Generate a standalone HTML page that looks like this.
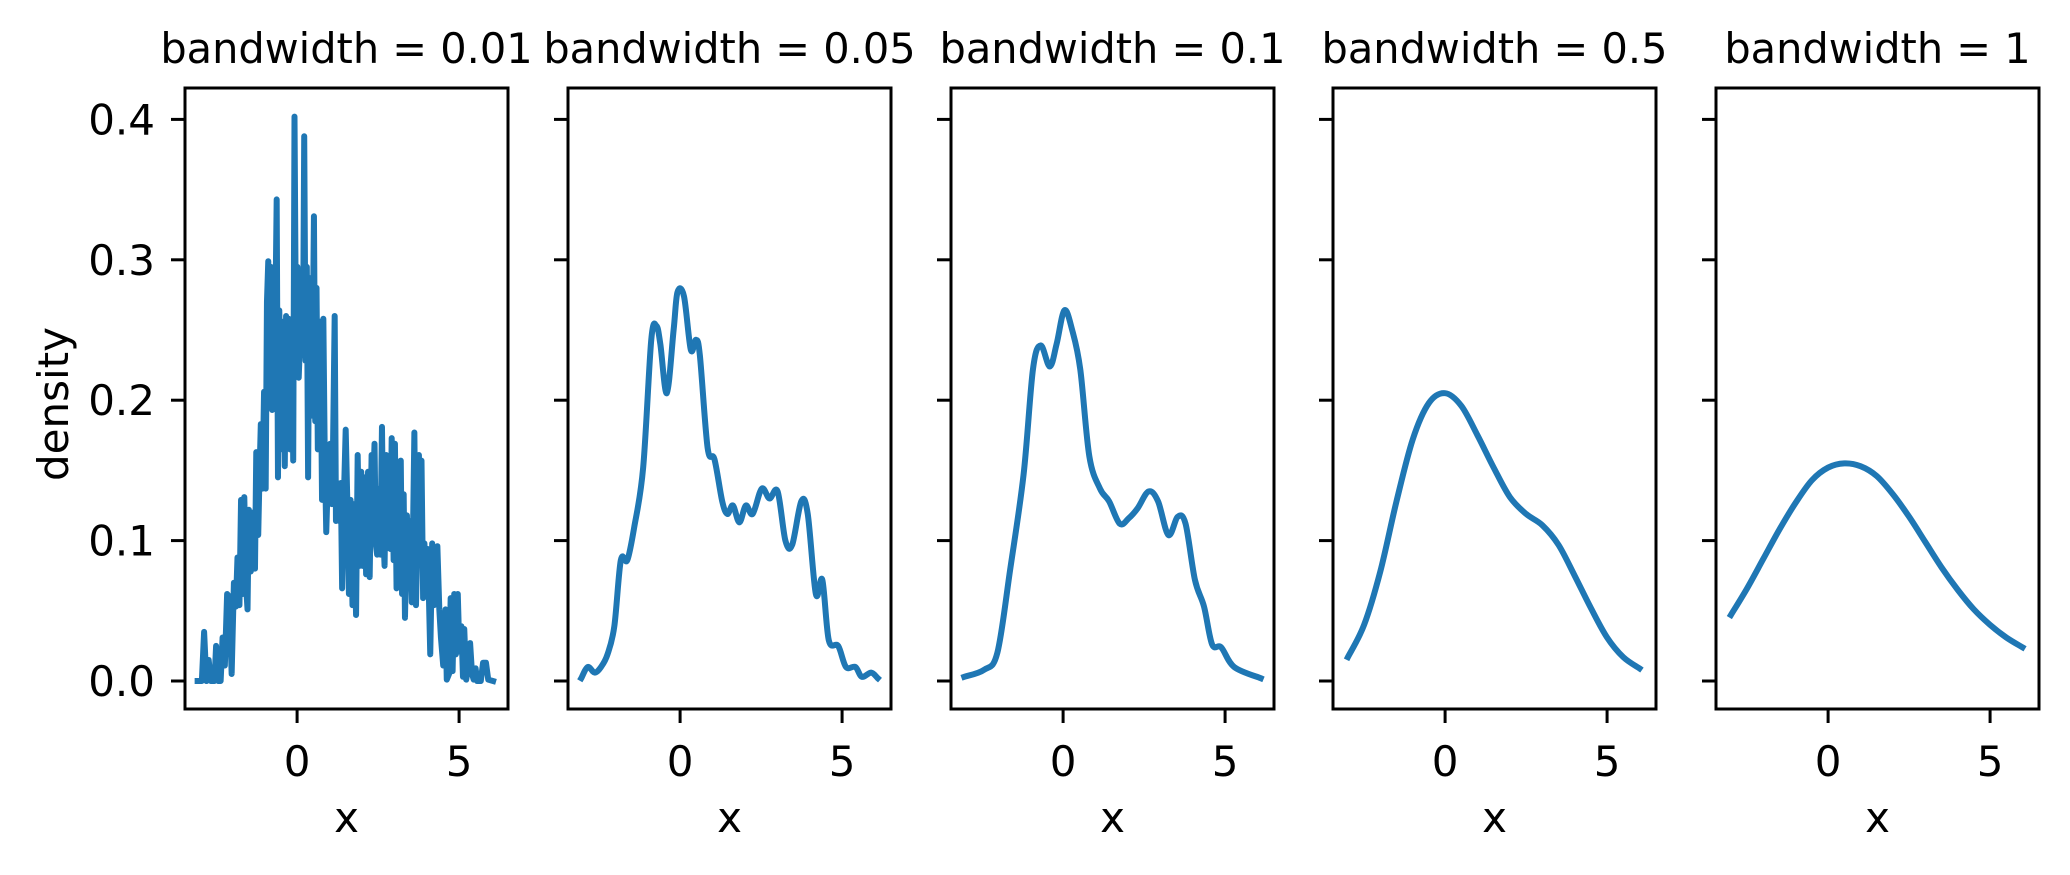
<!DOCTYPE html>
<html><head><meta charset="utf-8"><style>
html,body{margin:0;padding:0;background:#fff;}
svg text{font-family:"DejaVu Sans","Liberation Sans",sans-serif;fill:#000;}
</style></head><body>
<svg id="chart" width="2070" height="870" viewBox="0 0 2070 870" xmlns="http://www.w3.org/2000/svg">
<rect width="2070" height="870" fill="#fff"/>
<text x="0" y="0" font-size="42" text-anchor="middle" transform="translate(68,404) rotate(-90)">density</text>
</svg>
<script>
const titles = ["bandwidth = 0.01","bandwidth = 0.05","bandwidth = 0.1","bandwidth = 0.5","bandwidth = 1"];
const yTicks = [0, 0.1, 0.2, 0.3, 0.4];
const yTickLabels = ["0.0","0.1","0.2","0.3","0.4"];
const xTicks = [0, 5];
const xTickLabels = ["0","5"];
const x1 = [-3.07,-2.94,-2.87,-2.80,-2.73,-2.66,-2.55,-2.50,-2.43,-2.36,-2.30,-2.23,-2.16,-2.09,-2.02,-1.95,-1.89,-1.84,-1.78,-1.73,-1.68,-1.63,-1.57,-1.53,-1.49,-1.43,-1.37,-1.30,-1.26,-1.20,-1.16,-1.12,-1.07,-1.02,-0.97,-0.93,-0.89,-0.85,-0.81,-0.77,-0.72,-0.68,-0.63,-0.59,-0.55,-0.51,-0.46,-0.42,-0.38,-0.34,-0.30,-0.26,-0.22,-0.16,-0.12,-0.08,-0.03,0.01,0.05,0.10,0.14,0.18,0.22,0.26,0.30,0.34,0.38,0.42,0.46,0.52,0.56,0.60,0.64,0.68,0.72,0.77,0.81,0.85,0.90,0.94,0.98,1.02,1.07,1.11,1.16,1.20,1.24,1.30,1.35,1.39,1.43,1.50,1.56,1.60,1.65,1.71,1.75,1.82,1.87,1.93,1.98,2.02,2.08,2.13,2.19,2.24,2.30,2.34,2.39,2.43,2.47,2.53,2.57,2.62,2.66,2.70,2.75,2.79,2.84,2.88,2.92,2.98,3.02,3.07,3.11,3.16,3.20,3.24,3.29,3.33,3.39,3.44,3.48,3.54,3.58,3.62,3.67,3.72,3.76,3.80,3.84,3.89,3.93,3.99,4.03,4.07,4.11,4.17,4.23,4.28,4.33,4.39,4.44,4.51,4.58,4.62,4.69,4.74,4.80,4.85,4.90,4.96,5.01,5.07,5.12,5.16,5.22,5.29,5.34,5.40,5.45,5.51,5.56,5.67,5.74,5.83,5.90,6.05];
const y1 = [0,0,.035,0,.015,0,0,.025,0,0,.031,.011,.062,.060,.005,.070,.053,.088,.054,.129,.062,.131,.066,.051,.122,.078,.120,.080,.163,.104,.147,.183,.137,.206,.137,.270,.299,.216,.295,.193,.266,.244,.343,.145,.264,.208,.165,.256,.153,.260,.177,.258,.165,.256,.157,.402,.224,.295,.216,.248,.285,.232,.388,.228,.295,.145,.287,.248,.189,.331,.185,.280,.165,.212,.256,.129,.258,.169,.106,.137,.149,.169,.126,.169,.260,.114,.141,.114,.141,.066,.118,.179,.118,.062,.129,.054,.126,.047,.161,.082,.149,.082,.145,.076,.149,.074,.161,.129,.169,.098,.090,.137,.090,.181,.106,.082,.161,.106,.141,.094,.173,.086,.169,.066,.145,.102,.157,.062,.133,.045,.118,.070,.114,.056,.110,.177,.054,.110,.161,.106,.157,.059,.098,.066,.094,.059,.019,.098,.054,.090,.096,.051,.031,.011,.051,.001,.005,.059,.007,.062,.019,.062,.021,.039,.003,.037,.001,.011,.027,.005,.001,.009,0,0,.013,.013,.001,0];
const x2 = [-3.05,-2.85,-2.64,-2.44,-2.24,-2.03,-1.83,-1.63,-1.42,-1.14,-0.89,-0.73,-0.61,-0.41,-0.2,-0.08,0.12,0.33,0.49,0.61,0.85,1.06,1.3,1.46,1.63,1.83,2.03,2.24,2.52,2.76,3.01,3.25,3.46,3.74,3.94,4.19,4.39,4.59,4.88,5.12,5.41,5.61,5.9,6.1];
const y2 = [.002,.01,.006,.01,.019,.039,.086,.086,.109,.152,.243,.253,.24,.205,.25,.277,.274,.236,.243,.232,.166,.158,.128,.119,.125,.113,.125,.119,.137,.13,.135,.1,.097,.128,.119,.062,.072,.029,.025,.01,.01,.003,.006,.002];
const x3 = [-3.05,-2.44,-2.03,-1.63,-1.22,-0.93,-0.69,-0.41,-0.2,0.04,0.28,0.53,0.81,1.14,1.42,1.75,2.03,2.3,2.64,2.93,3.25,3.54,3.78,4.07,4.35,4.6,4.88,5.28,6.1];
const y3 = [.003,.008,.02,.08,.147,.222,.239,.224,.24,.264,.25,.222,.16,.137,.128,.112,.116,.123,.135,.128,.104,.117,.112,.072,.053,.026,.024,.01,.002];
const x4 = [-3,-2.5,-2,-1.5,-1,-0.5,0,0.5,1,1.5,2,2.5,3,3.5,4,4.5,5,5.5,6];
const y4 = [.017,.040,.078,.128,.172,.198,.205,.196,.175,.152,.131,.119,.111,.097,.075,.052,.031,.017,.009];
const x5 = [-3,-2.5,-2,-1.5,-1,-0.5,0,0.5,1,1.5,2,2.5,3,3.5,4,4.5,5,5.5,6];
const y5 = [.047,.066,.087,.108,.127,.143,.152,.155,.153,.146,.133,.117,.099,.081,.065,.051,.040,.031,.024];

const NS = "http://www.w3.org/2000/svg";
const svg = document.getElementById('chart');
const panelLefts = [185, 568, 951, 1333, 1716];
const PW = 323, TOP = 88, BOT = 709;
const xMin = -3.46, xMax = 6.51;
const yAt0 = 681, pxPer01 = 140.4;
const seriesX = [x1, x2, x3, x4, x5];
const seriesY = [y1, y2, y3, y4, y5];
const smooth = [false, true, true, true, true];

function mk(tag, attrs) {
  const e = document.createElementNS(NS, tag);
  for (const k in attrs) e.setAttribute(k, attrs[k]);
  return e;
}
function yScale(v) { return yAt0 - v / 0.1 * pxPer01; }

panelLefts.forEach((L, i) => {
  const xScale = v => L + (v - xMin) / (xMax - xMin) * PW;
  const g = mk('g', {});
  
  
  svg.appendChild(g);

  const t = mk('text', {x: L + PW / 2, y: 63, 'font-size': 41.5, 'text-anchor': 'middle'});
  
  
  t.textContent = titles[i];
  g.appendChild(t);

  const xs = seriesX[i], ys = seriesY[i];
  const pts = xs.map((x, k) => [xScale(x), yScale(ys[k])]);
  let d = 'M' + pts[0][0].toFixed(2) + ',' + pts[0][1].toFixed(2);
  if (!smooth[i]) {
    for (let k = 1; k < pts.length; k++) d += 'L' + pts[k][0].toFixed(2) + ',' + pts[k][1].toFixed(2);
  } else {
    for (let k = 0; k < pts.length - 1; k++) {
      const p0 = pts[Math.max(0, k - 1)], p1 = pts[k], p2 = pts[k + 1], p3 = pts[Math.min(pts.length - 1, k + 2)];
      const c1 = [p1[0] + (p2[0] - p0[0]) / 6, p1[1] + (p2[1] - p0[1]) / 6];
      const c2 = [p2[0] - (p3[0] - p1[0]) / 6, p2[1] - (p3[1] - p1[1]) / 6];
      d += 'C' + c1[0].toFixed(2) + ',' + c1[1].toFixed(2) + ' ' + c2[0].toFixed(2) + ',' + c2[1].toFixed(2) + ' ' + p2[0].toFixed(2) + ',' + p2[1].toFixed(2);
    }
  }
  const path = mk('path', {d: d, fill: 'none', stroke: '#1f77b4', 'stroke-width': 6, 'stroke-linejoin': 'round', 'stroke-linecap': 'square'});
  
  
  g.appendChild(path);

  yTicks.forEach((v, k) => {
    const y = yScale(v);
    const tk = mk('line', {x1: L - 14, x2: L, y1: y, y2: y, stroke: '#000', 'stroke-width': 3});
    
    
    g.appendChild(tk);
    if (i === 0) {
      const lb = mk('text', {x: L - 30, y: y + 15, 'font-size': 42, 'text-anchor': 'end'});
      
      
      lb.textContent = yTickLabels[k];
      g.appendChild(lb);
    }
  });
  xTicks.forEach((v, k) => {
    const x = xScale(v);
    const tk = mk('line', {x1: x, x2: x, y1: BOT, y2: BOT + 14, stroke: '#000', 'stroke-width': 3});
    
    
    g.appendChild(tk);
    const lb = mk('text', {x: x, y: 776, 'font-size': 42, 'text-anchor': 'middle'});
    
    
    lb.textContent = xTickLabels[k];
    g.appendChild(lb);
  });
  const xl = mk('text', {x: L + PW / 2, y: 832, 'font-size': 42, 'text-anchor': 'middle'});
  
  
  xl.textContent = 'x';
  g.appendChild(xl);

  const frame = mk('rect', {x: L, y: TOP, width: PW, height: BOT - TOP, fill: 'none', stroke: '#000', 'stroke-width': 3});
  
  
  g.appendChild(frame);
});
</script>
</body></html>
